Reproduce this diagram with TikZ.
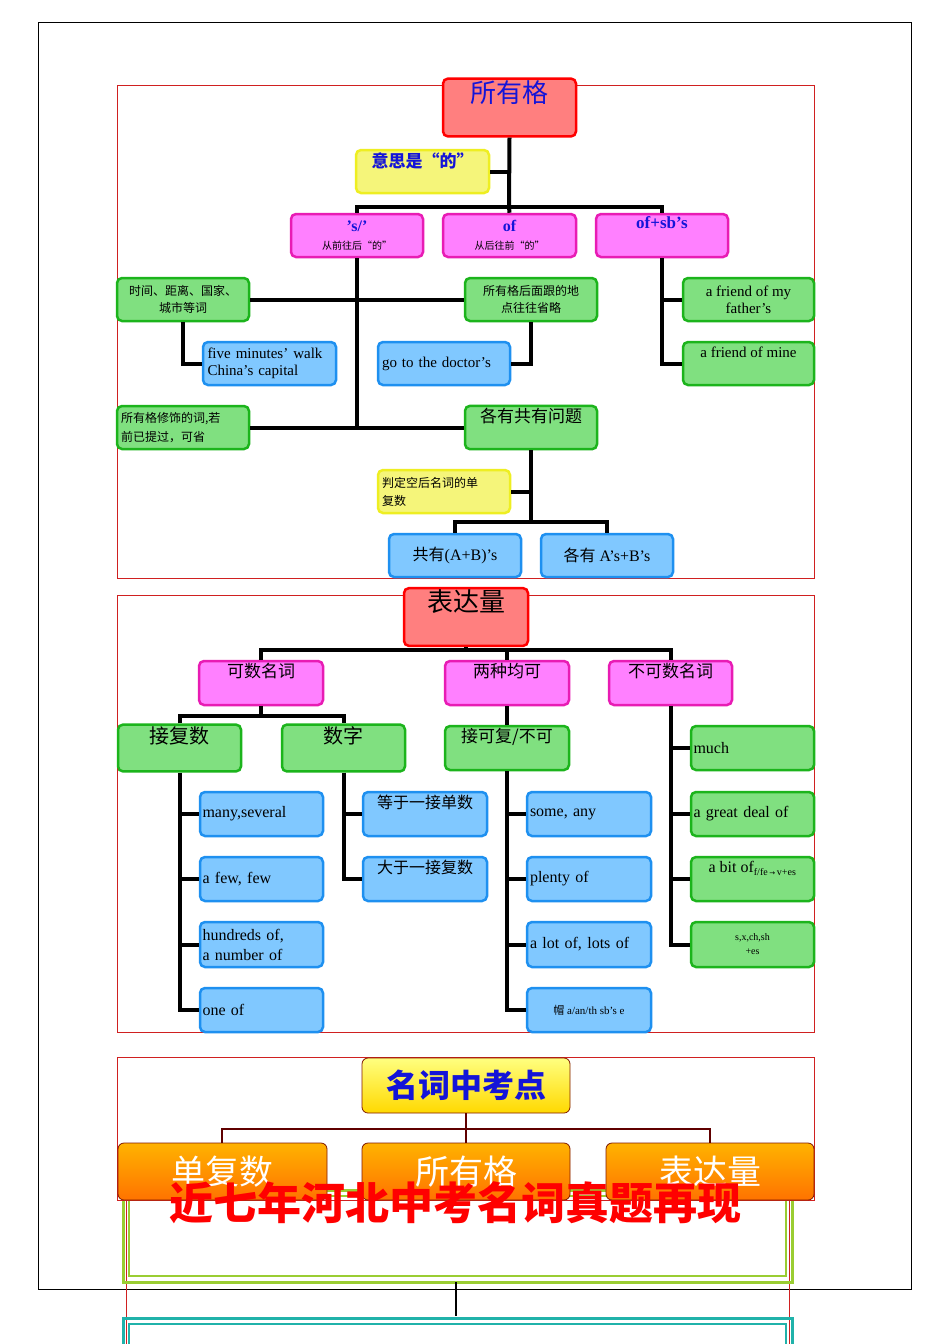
\documentclass[tikz,border=0pt]{standalone}
\usepackage{fontspec}
\setmainfont{Liberation Serif}
\newfontfamily\cjk{Noto Sans CJK SC}
\newcommand\fs[2]{\fontsize{#1}{#2}\selectfont}
\definecolor{rfill}{HTML}{FF7F7F}
\definecolor{mfill}{HTML}{FF80FF}\definecolor{mdraw}{HTML}{E81CB4}
\definecolor{gfill}{HTML}{80E080}\definecolor{gdraw}{HTML}{1CB41C}
\definecolor{bfill}{HTML}{80C8FF}\definecolor{bdraw}{HTML}{1E90F0}
\definecolor{yfill}{HTML}{F5F57A}\definecolor{ydraw}{HTML}{EEEE22}
\definecolor{tblue}{HTML}{1414D8}
\definecolor{ygreen}{HTML}{9ACD32}
\definecolor{cyanl}{HTML}{20B2AA}
\definecolor{frame}{HTML}{D02020}
\definecolor{brown}{HTML}{600000}
\newcommand\bx[7]{\node[#1, minimum width={(#5-#3)*1pt}, minimum height={(#6-#4)*1pt}] (#2) at ({(#3+#5)/2},{(#4+#6)/2}) {#7};}
\tikzset{
 bb/.style={rectangle, rounded corners=5pt, line width=2.5pt, inner sep=2pt, align=center, font=\fs{14}{16}},
 rbox/.style={bb, fill=rfill, draw=red},
 mbox/.style={bb, fill=mfill, draw=mdraw},
 gbox/.style={bb, fill=gfill, draw=gdraw},
 bbox/.style={bb, fill=bfill, draw=bdraw},
 ybox/.style={bb, fill=yfill, draw=ydraw},
 lft/.style={align=left, text width={#1*1pt}},
 conn/.style={line width=4pt, black},
 sframe/.style={draw=frame, line width=0.8pt},
 obox/.style={rectangle, rounded corners=6pt, draw=brown!80!orange, line width=0.8pt, top color=orange!60!yellow, bottom color=orange!90!red, text=white, font=\cjk\fs{34}{36}, inner sep=0pt}
}
\begin{document}
\begin{tikzpicture}[x=1pt,y=-1pt]
\useasboundingbox (0,0) rectangle (950,1344);
\fill[white] (0,0) rectangle (950,1344);
\draw[line width=0.8pt] (38,22) rectangle (911,1289);
% ---------------- section 1
\draw[sframe] (117,85) rectangle (814,578);
\bx{rbox, text=tblue, font=\cjk\fs{26}{28}}{t1}{443}{86}{576}{129}{所有格\\[4pt]}
\bx{ybox, text=tblue, font=\cjk\bfseries\fs{17}{19}}{mean}{356}{150}{489}{193}{意思是“的”\\[4pt]}
\bx{mbox}{s1}{291}{214}{423}{257}{\textcolor{tblue}{\fs{16}{18}\bfseries ’s/’}\\[2pt]{\cjk\fs{10}{11}从前往后“的”}}
\bx{mbox}{s2}{443}{214}{576}{257}{\textcolor{tblue}{\fs{16}{18}\bfseries of}\\[2pt]{\cjk\fs{10}{11}从后往前“的”}}
\bx{mbox, text=tblue, font=\fs{17}{19}\bfseries}{s3}{596}{214}{728}{257}{of+sb’s\\[6pt]}
\bx{gbox, font=\cjk\fs{12}{17}}{g1}{117}{278}{249}{321}{时间、距离、国家、\\城市等词}
\bx{gbox, font=\cjk\fs{12}{17}}{g2}{465}{278}{597}{321}{所有格后面跟的地\\点往往省略}
\bx{gbox, font=\fs{15}{17}}{g3}{683}{278}{814}{321}{a friend of my\\father’s}
\bx{bbox, lft=124, font=\fs{15}{17}}{b1}{203}{342}{336}{385}{five minutes’ walk\\China’s capital}
\bx{bbox, lft=124, font=\fs{15}{17}}{b2}{378}{342}{510}{385}{go to the doctor’s\\[10pt]}
\bx{gbox, font=\fs{15}{17}}{g4}{683}{342}{814}{385}{a friend of mine\\[6pt]}
\bx{gbox, lft=124, font=\cjk\fs{12}{19}}{g5}{117}{406}{249}{449}{所有格修饰的词,若\\前已提过，可省}
\bx{gbox, font=\cjk\fs{17}{19}}{g6}{465}{406}{597}{449}{各有共有问题\\[6pt]}
\bx{ybox, lft=124, font=\cjk\fs{12}{18}}{y2}{378}{470}{510}{513}{判定空后名词的单\\复数}
\bx{bbox, font=\fs{16}{18}}{b3}{389}{534}{521}{577}{{\cjk 共有}(A+B)’s}
\bx{bbox, font=\fs{16}{18}}{b4}{541}{534}{673}{577}{{\cjk 各有} A’s+B’s}
\coordinate (j1) at (509,207);
\draw[conn] (t1.south) -- (j1);
\draw[conn] (mean.east) -- (mean.east -| j1);
\draw[conn] (s1.north) |- (j1) -| (s3.north);
\draw[conn] (s2.north) -- (j1);
\draw[conn] (g1.east) -- (g2.west);
\draw[conn] (s1.south) |- (g6.west);
\draw[conn] (g5.east) -- (g5.east -| s1.south);
\draw[conn] (g1.south) |- (b1.west);
\draw[conn] (g2.south) |- (b2.east);
\draw[conn] (s3.south) |- (g4.west);
\draw[conn] (g3.west) -- (g3.west -| s3.south);
\coordinate (j2) at (531,522);
\draw[conn] (g6.south) -- (j2);
\draw[conn] (y2.east) -- (y2.east -| j2);
\draw[conn] (b3.north) |- (j2) -| (b4.north);
% ---------------- section 2
\draw[sframe] (117,595) rectangle (814,1032);
\bx{rbox, font=\cjk\fs{26}{28}}{t2}{404}{595}{528}{639}{表达量\\[4pt]}
\bx{mbox, font=\cjk\fs{17}{19}}{m1}{199}{661}{323}{705}{可数名词\\[6pt]}
\bx{mbox, font=\cjk\fs{17}{19}}{m2}{445}{661}{569}{705}{两种均可\\[6pt]}
\bx{mbox, font=\cjk\fs{17}{19}}{m3}{609}{661}{732}{705}{不可数名词\\[6pt]}
\bx{gbox, font=\cjk\fs{20}{22}}{n1}{118}{726}{241}{770}{接复数\\[4pt]}
\bx{gbox, font=\cjk\fs{20}{22}}{n2}{282}{726}{405}{770}{数字\\[4pt]}
\bx{gbox, font=\cjk\fs{17}{19}}{n3}{445}{726}{569}{770}{接可复/不可\\[6pt]}
\bx{gbox, lft=118, font=\fs{16}{18}}{n4}{691}{726}{814}{770}{much\\[6pt]}
\bx{bbox, lft=118, font=\fs{16}{18}}{c11}{200}{792}{323}{836}{many,several\\[6pt]}
\bx{bbox, lft=118, font=\fs{16}{18}}{c12}{200}{857}{323}{901}{a few, few\\[6pt]}
\bx{bbox, lft=118, font=\fs{16}{20}}{c13}{200}{922}{323}{967}{hundreds of,\\a number of}
\bx{bbox, lft=118, font=\fs{16}{18}}{c14}{200}{988}{323}{1032}{one of\\[6pt]}
\bx{bbox, font=\cjk\fs{16}{18}}{c21}{363}{792}{487}{836}{等于一接单数\\[6pt]}
\bx{bbox, font=\cjk\fs{16}{18}}{c22}{363}{857}{487}{901}{大于一接复数\\[6pt]}
\bx{bbox, lft=118, font=\fs{16}{18}}{c31}{527}{792}{651}{836}{some, any\\[6pt]}
\bx{bbox, lft=118, font=\fs{16}{18}}{c32}{527}{857}{651}{901}{plenty of\\[6pt]}
\bx{bbox, lft=118, font=\fs{16}{18}}{c33}{527}{922}{651}{967}{a lot of, lots of\\[6pt]}
\bx{bbox, font=\fs{11}{13}}{c34}{527}{988}{651}{1032}{{\cjk 帽} a/an/th sb’s e}
\bx{gbox, lft=118, font=\fs{16}{18}}{c41}{691}{792}{814}{836}{a great deal of\\[6pt]}
\bx{gbox, font=\fs{16}{18}}{c42}{691}{857}{814}{901}{a bit of\textsubscript{\fs{10}{11}f/fe\,{\fontspec{DejaVu Sans}\fs{7}{8}→}\,v+es}\\[6pt]}
\bx{gbox, font=\fs{10}{14}}{c43}{691}{922}{814}{967}{s,x,ch,sh\\+es}
\coordinate (j3) at (466,650);
\draw[conn] (t2.south) -- (j3);
\draw[conn] (m1.north) |- (j3) -| (m3.north);
\draw[conn] (m2.north) -- (m2.north |- j3);
\coordinate (j4) at (261,716);
\draw[conn] (m1.south) -- (j4);
\draw[conn] (n1.north) |- (j4) -| (n2.north);
\draw[conn] (m2.south) -- (n3.north);
\draw[conn] (m3.south) |- (c43.west);
\draw[conn] (n4.west) -- (n4.west -| m3.south);
\draw[conn] (c41.west) -- (c41.west -| m3.south);
\draw[conn] (c42.west) -- (c42.west -| m3.south);
\draw[conn] (n1.south) |- (c14.west);
\foreach \c in {c11,c12,c13} \draw[conn] (\c.west) -- (\c.west -| n1.south);
\draw[conn] (n2.south) |- (c22.west);
\draw[conn] (c21.west) -- (c21.west -| n2.south);
\draw[conn] (n3.south) |- (c34.west);
\foreach \c in {c31,c32,c33} \draw[conn] (\c.west) -- (\c.west -| n3.south);
% ---------------- section 3
\draw[frame, line width=0.6pt] (126,1190) -- (126,1344) (789,1190) -- (789,1344);
\draw[ygreen, line width=3pt] (123,1190) rectangle (792,1282);
\draw[ygreen, line width=2pt] (129,1196) rectangle (786,1276);
\draw[cyanl, line width=3pt] (123,1344) -- (123,1318) -- (792,1318) -- (792,1344);
\draw[cyanl, line width=2pt] (129,1344) -- (129,1324) -- (786,1324) -- (786,1344);
\coordinate (bt) at (456,1282);
\coordinate (bc) at (456,1316);
\draw[line width=2pt] (bt) -- (bc);
\draw[sframe, line width=0.6pt] (117,1057) rectangle (814,1200);
\bx{rectangle, rounded corners=6pt, draw=brown!80!orange, line width=0.8pt, top color=yellow!50, bottom color=yellow!70!orange, text=tblue, font=\cjk\bfseries\fs{32}{34}, inner sep=0pt}{k}{362}{1058}{570}{1113}{名词中考点\\[26pt]}
\bx{obox}{o1}{118}{1143}{327}{1200}{单复数\\[32pt]}
\bx{obox}{o2}{362}{1143}{570}{1200}{所有格\\[32pt]}
\bx{obox}{o3}{606}{1143}{814}{1200}{表达量\\[32pt]}
\coordinate (j5) at (466,1129);
\draw[brown, line width=2.5pt] (k.south) -- (j5);
\draw[brown, line width=2.5pt] (o1.north -| 222,0) |- (j5) -| (o3.north -| 710,0);
\draw[brown, line width=2.5pt] (o2.north) -- (o2.north |- j5);
\node[text=red, font=\cjk\bfseries\fs{44}{46}] (rt) at (455,1203) {近七年河北中考名词真题再现};
\end{tikzpicture}
\end{document}
